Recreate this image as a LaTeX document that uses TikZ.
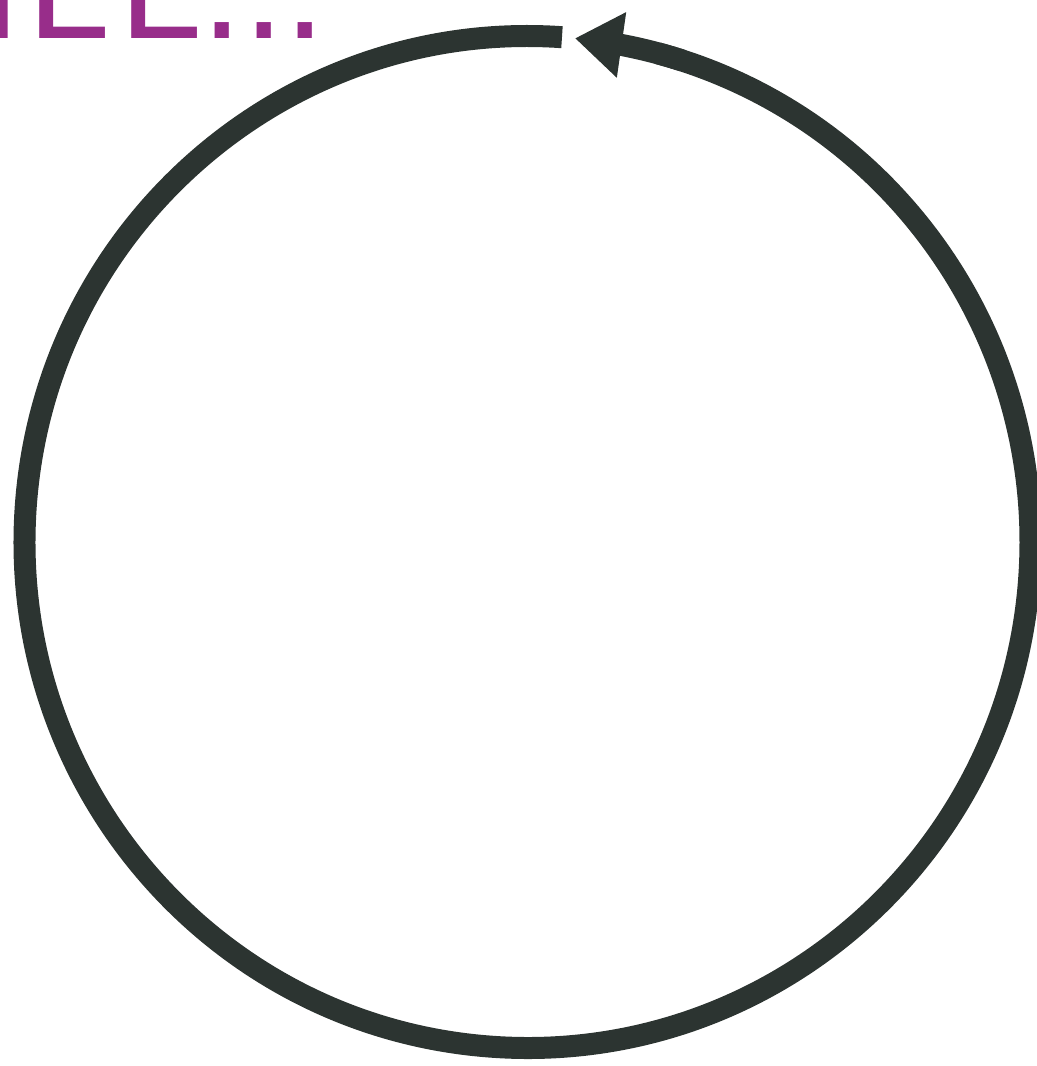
\documentclass[tikz,border=0pt]{standalone}
\usepackage{fontspec}
\setmainfont{Liberation Sans}
\usetikzlibrary{arrows.meta,bending}
\definecolor{ringcol}{RGB}{44,52,49}
\definecolor{titlecol}{RGB}{152,45,138}
\begin{document}
\begin{tikzpicture}[x=0.5pt,y=-0.5pt,
  glyph/.style={inner sep=0pt, anchor=base west, text=titlecol, font=\fontsize{74.5pt}{80pt}\selectfont},
  ring/.style={draw=ringcol, line width=11pt},
  ringtip/.style={ring, -{Triangle[length=23.5pt,width=31.5pt,flex]}}]
\useasboundingbox (0,0) rectangle (1037,1066);
\clip (0,0) rectangle (1037,1066);
% cropped title
\node[glyph] (g1) at (-20,38) {I};
\node[glyph] (g2) at (27,38) {L};
\node[glyph] (g3) at (119,38) {L};
\node[glyph] (g4) at (201,38) {.};
\node[glyph] (g5) at (243,38) {.};
\node[glyph] (g6) at (284,38) {.};
% ring
\coordinate (c) at (527.5,542);
\path (c) ++(-86.07:503 and 506) coordinate (rs);
\path (c) ++(-72:503 and 506) coordinate (rm);
\draw[ring] (rs) arc[start angle=-86.07, end angle=-435, x radius=503, y radius=506];
\draw[ringtip] (rm) arc[start angle=-72, end angle=-84.58, x radius=503, y radius=506];
\end{tikzpicture}
\end{document}
